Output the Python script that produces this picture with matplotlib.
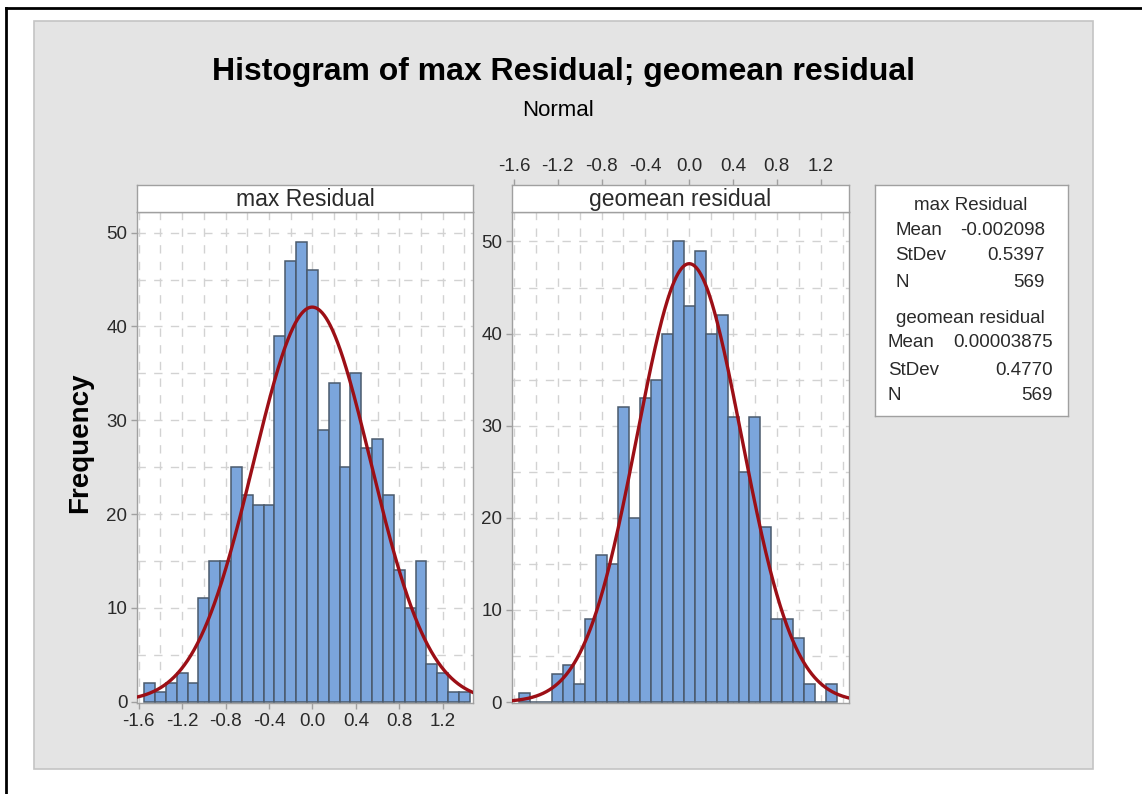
import numpy as np
import matplotlib.pyplot as plt
from matplotlib.patches import Rectangle
from matplotlib.lines import Line2D

plt.rcParams['font.family'] = ['Liberation Sans', 'DejaVu Sans']

# histogram counts, bins 0.1 wide starting at -1.55
bin_start = -1.55
bin_width = 0.1
max_counts = [2, 1, 2, 3, 2, 11, 15, 15, 25, 22, 21, 21, 39, 47, 49, 46,
              29, 34, 25, 35, 27, 28, 22, 14, 10, 15, 4, 3, 1, 1]
geo_counts = [1, 0, 0, 3, 4, 2, 9, 16, 15, 32, 20, 33, 35, 40, 50, 43,
              49, 40, 42, 31, 25, 31, 19, 9, 9, 7, 2, 0, 2]

# fitted normal parameters
panel_names = ["max Residual", "geomean residual"]
means = [-0.002098, 0.00003875]
stdevs = [0.5397, 0.4770]
ns = [569, 569]
mean_labels = ["-0.002098", "0.00003875"]
stdev_labels = ["0.5397", "0.4770"]

x_ticks = [-1.6, -1.2, -0.8, -0.4, 0.0, 0.4, 0.8, 1.2]
x_tick_labels = ["-1.6", "-1.2", "-0.8", "-0.4", "0.0", "0.4", "0.8", "1.2"]
y_ticks = [0, 10, 20, 30, 40, 50]

bar_color = "#7ba5dc"
bar_edge = "#4a5a6c"
curve_color = "#9c0f16"
spine_color = "#a0a0a0"
grid_color = "#d2d2d2"
text_color = "#2a2a2a"

fig = plt.figure(figsize=(11.42, 7.94), dpi=100)
fig.patch.set_facecolor("white")

# grey background panel and the black frame lines
bg = Rectangle((0.0298, 0.0315), 0.9273, 0.9421, transform=fig.transFigure,
               facecolor="#e4e4e4", edgecolor="#c4c4c4", lw=1.2, zorder=-5)
fig.add_artist(bg)
fig.add_artist(Line2D([0.0053, 0.0053], [0, 0.9899], color="black", lw=2, zorder=-4))
fig.add_artist(Line2D([0.0053, 1], [0.9899, 0.9899], color="black", lw=2, zorder=-4))

fig.text(0.493, 0.909, "Histogram of max Residual; geomean residual", ha="center", va="center",
         fontsize=23, fontweight="bold", color="black")
fig.text(0.489, 0.861, "Normal", ha="center", va="center", fontsize=16, color="black")
fig.text(0.070, 0.442, "Frequency", ha="center", va="center", rotation=90,
         fontsize=20, fontweight="bold", color="black")

axes_pos = [[0.1200, 0.1146, 0.2942, 0.6184], [0.4483, 0.1146, 0.2951, 0.6184]]
xlims = [(-1.615, 1.479), (-1.618, 1.458)]
ylims = [(-0.15, 52.2), (-0.1, 53.2)]
all_counts = [max_counts, geo_counts]

for i in range(2):
    pos = axes_pos[i]
    counts = all_counts[i]
    ax = fig.add_axes(pos)
    ax.set_facecolor("white")

    # dashed grid every 0.2 and every 5
    for v in np.arange(-1.6, 1.45, 0.2):
        ax.axvline(v, color=grid_color, lw=1, ls=(0, (6, 6)), zorder=1)
    for h in range(5, 55, 5):
        ax.axhline(h, color=grid_color, lw=1, ls=(0, (6, 6)), zorder=1)

    left_edges = bin_start + bin_width * np.arange(len(counts))
    ax.bar(left_edges, counts, width=bin_width, align="edge", color=bar_color,
           edgecolor=bar_edge, lw=1.1, zorder=2)

    xs = np.linspace(xlims[i][0], xlims[i][1], 500)
    ys = ns[i] * bin_width / (stdevs[i] * np.sqrt(2 * np.pi)) * np.exp(-0.5 * ((xs - means[i]) / stdevs[i]) ** 2)
    ax.plot(xs, ys, color=curve_color, lw=2.4, zorder=3)

    ax.set_xlim(xlims[i])
    ax.set_ylim(ylims[i])
    ax.set_yticks(y_ticks)
    ax.set_yticklabels([str(t) for t in y_ticks])
    if i == 0:
        ax.set_xticks(x_ticks)
        ax.set_xticklabels(x_tick_labels)
    else:
        ax.set_xticks([])
    ax.tick_params(direction="out", length=4, width=1, color=spine_color,
                   labelsize=13.5, labelcolor=text_color, pad=3)
    for s in ax.spines.values():
        s.set_color(spine_color)
        s.set_linewidth(1)

    # panel header strip
    sax = fig.add_axes([pos[0], 0.7330, pos[2], 0.0340])
    sax.set_facecolor("white")
    sax.set_xlim(xlims[i])
    sax.set_yticks([])
    sax.text(0.5, 0.48, panel_names[i], transform=sax.transAxes, ha="center", va="center",
             fontsize=16.5, color=text_color)
    if i == 1:
        sax.xaxis.tick_top()
        sax.set_xticks(x_ticks)
        sax.set_xticklabels(x_tick_labels)
        sax.tick_params(direction="out", length=4, width=1, color=spine_color,
                        labelsize=13.5, labelcolor=text_color, pad=3)
    else:
        sax.set_xticks([])
    for s in sax.spines.values():
        s.set_color(spine_color)
        s.set_linewidth(1)

# statistics box
lax = fig.add_axes([0.7662, 0.4761, 0.1690, 0.2909])
lax.set_facecolor("white")
lax.set_xticks([])
lax.set_yticks([])
lax.set_xlim(0, 1)
lax.set_ylim(0, 1)
for s in lax.spines.values():
    s.set_color(spine_color)
    s.set_linewidth(1)

header_y = [0.913, 0.424]
row_y = [[0.805, 0.693, 0.576], [0.316, 0.199, 0.087]]
label_x = [0.104, 0.067]
value_x = [0.881, 0.922]
for i in range(2):
    lax.text(0.495, header_y[i], panel_names[i], ha="center", va="center", fontsize=13.5, color=text_color)
    names = ["Mean", "StDev", "N"]
    vals = [mean_labels[i], stdev_labels[i], str(ns[i])]
    for j in range(3):
        lax.text(label_x[i], row_y[i][j], names[j], ha="left", va="center", fontsize=13.5, color=text_color)
        lax.text(value_x[i], row_y[i][j], vals[j], ha="right", va="center", fontsize=13.5, color=text_color)

fig.savefig("out.png", dpi=100)
